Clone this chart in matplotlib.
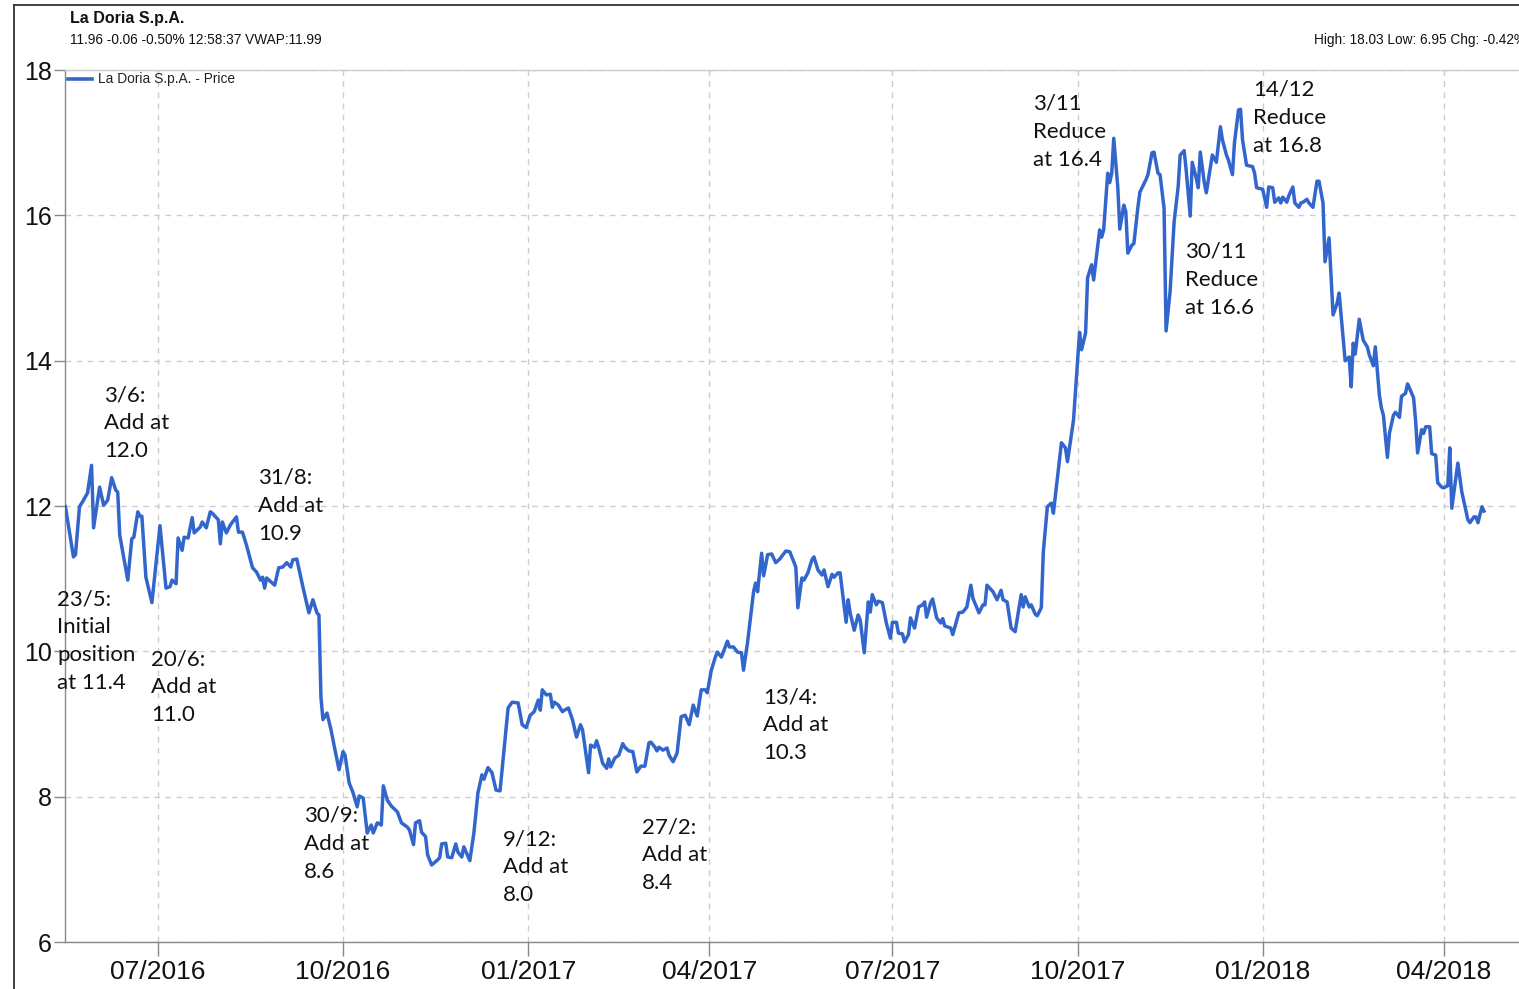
import matplotlib
matplotlib.use("Agg")
import matplotlib.pyplot as plt
import matplotlib.dates as mdates
from matplotlib.lines import Line2D
import pandas as pd

# ---------------- data ----------------
dates = [
    "2016-05-16", "2016-05-20", "2016-05-21", "2016-05-23", "2016-05-25", "2016-05-27", "2016-05-29", "2016-05-30",
    "2016-06-02", "2016-06-04", "2016-06-06", "2016-06-08", "2016-06-10", "2016-06-11", "2016-06-12", "2016-06-16",
    "2016-06-18", "2016-06-19", "2016-06-21", "2016-06-22", "2016-06-23", "2016-06-25", "2016-06-28", "2016-07-02",
    "2016-07-05", "2016-07-07", "2016-07-08", "2016-07-10", "2016-07-11", "2016-07-13", "2016-07-14", "2016-07-16",
    "2016-07-18", "2016-07-19", "2016-07-22", "2016-07-23", "2016-07-25", "2016-07-27", "2016-07-28", "2016-07-31",
    "2016-08-01", "2016-08-02", "2016-08-04", "2016-08-06", "2016-08-09", "2016-08-10", "2016-08-12", "2016-08-14",
    "2016-08-17", "2016-08-19", "2016-08-21", "2016-08-22", "2016-08-23", "2016-08-24", "2016-08-28", "2016-08-30",
    "2016-09-01", "2016-09-03", "2016-09-05", "2016-09-06", "2016-09-08", "2016-09-11", "2016-09-14", "2016-09-16",
    "2016-09-18", "2016-09-19", "2016-09-20", "2016-09-21", "2016-09-23", "2016-09-25", "2016-09-27", "2016-09-29",
    "2016-10-01", "2016-10-02", "2016-10-04", "2016-10-06", "2016-10-08", "2016-10-09", "2016-10-11", "2016-10-13",
    "2016-10-15", "2016-10-16", "2016-10-18", "2016-10-20", "2016-10-21", "2016-10-23", "2016-10-25", "2016-10-28",
    "2016-10-30", "2016-11-02", "2016-11-03", "2016-11-05", "2016-11-06", "2016-11-08", "2016-11-09", "2016-11-11",
    "2016-11-12", "2016-11-14", "2016-11-17", "2016-11-18", "2016-11-19", "2016-11-21", "2016-11-22", "2016-11-24",
    "2016-11-26", "2016-11-27", "2016-11-29", "2016-11-30", "2016-12-03", "2016-12-05", "2016-12-07", "2016-12-09",
    "2016-12-10", "2016-12-12", "2016-12-14", "2016-12-16", "2016-12-18", "2016-12-22", "2016-12-24", "2016-12-27",
    "2016-12-29", "2016-12-31", "2017-01-02", "2017-01-04", "2017-01-06", "2017-01-07", "2017-01-08", "2017-01-10",
    "2017-01-12", "2017-01-13", "2017-01-14", "2017-01-16", "2017-01-18", "2017-01-19", "2017-01-21", "2017-01-23",
    "2017-01-25", "2017-01-27", "2017-01-28", "2017-01-30", "2017-01-31", "2017-02-01", "2017-02-03", "2017-02-04",
    "2017-02-05", "2017-02-07", "2017-02-09", "2017-02-10", "2017-02-11", "2017-02-13", "2017-02-15", "2017-02-17",
    "2017-02-18", "2017-02-20", "2017-02-22", "2017-02-24", "2017-02-26", "2017-02-28", "2017-03-02", "2017-03-03",
    "2017-03-05", "2017-03-06", "2017-03-07", "2017-03-09", "2017-03-11", "2017-03-12", "2017-03-14", "2017-03-16",
    "2017-03-18", "2017-03-20", "2017-03-22", "2017-03-24", "2017-03-26", "2017-03-28", "2017-03-30", "2017-03-31",
    "2017-04-02", "2017-04-04", "2017-04-05", "2017-04-07", "2017-04-10", "2017-04-11", "2017-04-13", "2017-04-15",
    "2017-04-17", "2017-04-18", "2017-04-20", "2017-04-23", "2017-04-24", "2017-04-25", "2017-04-27", "2017-04-28",
    "2017-04-30", "2017-05-02", "2017-05-04", "2017-05-06", "2017-05-09", "2017-05-11", "2017-05-14", "2017-05-15",
    "2017-05-17", "2017-05-18", "2017-05-20", "2017-05-22", "2017-05-23", "2017-05-25", "2017-05-27", "2017-05-28",
    "2017-05-30", "2017-06-01", "2017-06-02", "2017-06-04", "2017-06-05", "2017-06-08", "2017-06-09", "2017-06-10",
    "2017-06-12", "2017-06-14", "2017-06-15", "2017-06-17", "2017-06-19", "2017-06-20", "2017-06-21", "2017-06-23",
    "2017-06-24", "2017-06-26", "2017-06-28", "2017-06-30", "2017-07-01", "2017-07-03", "2017-07-04", "2017-07-06",
    "2017-07-07", "2017-07-09", "2017-07-10", "2017-07-12", "2017-07-14", "2017-07-16", "2017-07-17", "2017-07-18",
    "2017-07-20", "2017-07-21", "2017-07-23", "2017-07-25", "2017-07-26", "2017-07-27", "2017-07-30", "2017-07-31",
    "2017-08-03", "2017-08-05", "2017-08-07", "2017-08-09", "2017-08-10", "2017-08-13", "2017-08-15", "2017-08-16",
    "2017-08-17", "2017-08-20", "2017-08-22", "2017-08-24", "2017-08-25", "2017-08-27", "2017-08-29", "2017-08-31",
    "2017-09-03", "2017-09-04", "2017-09-05", "2017-09-07", "2017-09-08", "2017-09-10", "2017-09-11", "2017-09-13",
    "2017-09-14", "2017-09-16", "2017-09-18", "2017-09-19", "2017-09-23", "2017-09-25", "2017-09-26", "2017-09-29",
    "2017-10-02", "2017-10-03", "2017-10-05", "2017-10-06", "2017-10-08", "2017-10-09", "2017-10-12", "2017-10-13",
    "2017-10-14", "2017-10-16", "2017-10-17", "2017-10-18", "2017-10-19", "2017-10-21", "2017-10-22", "2017-10-24",
    "2017-10-25", "2017-10-26", "2017-10-28", "2017-10-29", "2017-10-31", "2017-11-01", "2017-11-04", "2017-11-05",
    "2017-11-07", "2017-11-08", "2017-11-10", "2017-11-11", "2017-11-13", "2017-11-14", "2017-11-16", "2017-11-18",
    "2017-11-20", "2017-11-21", "2017-11-23", "2017-11-24", "2017-11-26", "2017-11-27", "2017-11-29", "2017-11-30",
    "2017-12-01", "2017-12-03", "2017-12-04", "2017-12-07", "2017-12-09", "2017-12-11", "2017-12-12", "2017-12-14",
    "2017-12-15", "2017-12-17", "2017-12-18", "2017-12-20", "2017-12-21", "2017-12-22", "2017-12-24", "2017-12-27",
    "2017-12-28", "2017-12-29", "2018-01-01", "2018-01-03", "2018-01-04", "2018-01-06", "2018-01-07", "2018-01-09",
    "2018-01-10", "2018-01-11", "2018-01-13", "2018-01-14", "2018-01-16", "2018-01-17", "2018-01-19", "2018-01-20",
    "2018-01-21", "2018-01-23", "2018-01-24", "2018-01-26", "2018-01-28", "2018-01-29", "2018-01-31", "2018-02-01",
    "2018-02-03", "2018-02-05", "2018-02-07", "2018-02-08", "2018-02-11", "2018-02-13", "2018-02-14", "2018-02-15",
    "2018-02-16", "2018-02-18", "2018-02-20", "2018-02-22", "2018-02-23", "2018-02-25", "2018-02-26", "2018-02-28",
    "2018-03-01", "2018-03-02", "2018-03-04", "2018-03-05", "2018-03-07", "2018-03-08", "2018-03-10", "2018-03-11",
    "2018-03-13", "2018-03-14", "2018-03-15", "2018-03-17", "2018-03-18", "2018-03-19", "2018-03-21", "2018-03-22",
    "2018-03-23", "2018-03-25", "2018-03-26", "2018-03-28", "2018-03-29", "2018-03-31", "2018-04-01", "2018-04-03",
    "2018-04-04", "2018-04-05", "2018-04-08", "2018-04-10", "2018-04-13", "2018-04-14", "2018-04-16", "2018-04-17",
    "2018-04-18", "2018-04-20", "2018-04-21",
]

prices = [
    11.99, 11.30, 11.33, 11.99, 12.08, 12.18, 12.56, 11.70,
    12.26, 12.01, 12.08, 12.39, 12.22, 12.19, 11.60, 10.98,
    11.55, 11.57, 11.92, 11.86, 11.86, 11.02, 10.67, 11.73,
    10.87, 10.89, 10.98, 10.93, 11.56, 11.39, 11.57, 11.56,
    11.84, 11.63, 11.71, 11.78, 11.70, 11.92, 11.90, 11.81,
    11.48, 11.78, 11.63, 11.74, 11.85, 11.64, 11.64, 11.46,
    11.15, 11.09, 10.98, 11.02, 10.87, 11.01, 10.91, 11.15,
    11.16, 11.22, 11.16, 11.26, 11.27, 10.89, 10.53, 10.71,
    10.53, 10.50, 9.37, 9.06, 9.15, 8.92, 8.64, 8.37,
    8.62, 8.57, 8.19, 8.05, 7.86, 8.01, 7.98, 7.50,
    7.61, 7.50, 7.64, 7.61, 8.15, 7.95, 7.87, 7.79,
    7.64, 7.58, 7.54, 7.34, 7.64, 7.67, 7.51, 7.45,
    7.20, 7.06, 7.13, 7.16, 7.35, 7.36, 7.17, 7.16,
    7.35, 7.24, 7.17, 7.31, 7.12, 7.50, 8.05, 8.30,
    8.24, 8.40, 8.33, 8.09, 8.08, 9.22, 9.30, 9.29,
    8.99, 8.95, 9.12, 9.17, 9.33, 9.19, 9.47, 9.40,
    9.41, 9.23, 9.30, 9.26, 9.17, 9.19, 9.22, 9.06,
    8.82, 8.99, 8.92, 8.53, 8.33, 8.71, 8.68, 8.77,
    8.68, 8.46, 8.39, 8.52, 8.41, 8.53, 8.57, 8.73,
    8.68, 8.63, 8.62, 8.34, 8.42, 8.42, 8.74, 8.75,
    8.68, 8.63, 8.68, 8.64, 8.67, 8.57, 8.48, 8.60,
    9.10, 9.12, 8.99, 9.26, 9.11, 9.47, 9.47, 9.43,
    9.74, 9.92, 9.99, 9.92, 10.14, 10.06, 10.06, 9.99,
    9.98, 9.74, 10.12, 10.82, 10.94, 10.82, 11.35, 11.04,
    11.33, 11.34, 11.22, 11.27, 11.38, 11.37, 11.16, 10.60,
    11.01, 10.98, 11.08, 11.26, 11.30, 11.12, 11.05, 11.12,
    10.89, 11.06, 11.02, 11.08, 11.08, 10.40, 10.71, 10.53,
    10.29, 10.50, 10.43, 9.98, 10.68, 10.54, 10.78, 10.64,
    10.69, 10.67, 10.39, 10.18, 10.40, 10.40, 10.25, 10.24,
    10.13, 10.23, 10.46, 10.32, 10.61, 10.64, 10.68, 10.47,
    10.67, 10.72, 10.46, 10.39, 10.45, 10.35, 10.32, 10.23,
    10.53, 10.54, 10.61, 10.91, 10.73, 10.53, 10.64, 10.64,
    10.91, 10.82, 10.71, 10.84, 10.71, 10.68, 10.32, 10.27,
    10.78, 10.61, 10.75, 10.61, 10.64, 10.51, 10.49, 10.60,
    11.37, 11.99, 12.04, 11.90, 12.87, 12.80, 12.61, 13.18,
    14.39, 14.15, 14.38, 15.14, 15.32, 15.11, 15.80, 15.70,
    15.80, 16.58, 16.45, 16.58, 17.06, 16.39, 15.81, 16.14,
    16.05, 15.48, 15.59, 15.61, 16.11, 16.32, 16.49, 16.56,
    16.86, 16.87, 16.58, 16.56, 16.10, 14.41, 14.95, 15.91,
    16.39, 16.83, 16.89, 16.62, 15.99, 16.73, 16.51, 16.38,
    16.87, 16.45, 16.31, 16.83, 16.73, 17.22, 17.04, 16.83,
    16.76, 16.56, 17.00, 17.45, 17.46, 17.04, 16.69, 16.67,
    16.58, 16.38, 16.36, 16.11, 16.39, 16.38, 16.18, 16.24,
    16.17, 16.25, 16.18, 16.27, 16.39, 16.17, 16.11, 16.17,
    16.18, 16.22, 16.17, 16.11, 16.47, 16.47, 16.17, 15.36,
    15.69, 14.63, 14.79, 14.93, 14.00, 14.05, 13.64, 14.24,
    14.09, 14.57, 14.28, 14.19, 14.08, 13.93, 14.19, 13.53,
    13.35, 13.25, 12.67, 13.00, 13.25, 13.29, 13.22, 13.51,
    13.55, 13.68, 13.62, 13.49, 13.18, 12.73, 13.05, 13.00,
    13.09, 13.09, 12.72, 12.70, 12.32, 12.26, 12.25, 12.28,
    12.80, 11.97, 12.59, 12.19, 11.81, 11.77, 11.85, 11.85,
    11.77, 11.99, 11.93,
]

tick_dates = ["2016-07-01", "2016-10-01", "2017-01-01", "2017-04-01",
              "2017-07-01", "2017-10-01", "2018-01-01", "2018-04-01"]
tick_labels = ["07/2016", "10/2016", "01/2017", "04/2017",
               "07/2017", "10/2017", "01/2018", "04/2018"]
y_ticks = [6, 8, 10, 12, 14, 16, 18]

notes = [
    "23/5:\nInitial\nposition\nat 11.4",
    "3/6:\nAdd at\n12.0",
    "20/6:\nAdd at\n11.0",
    "31/8:\nAdd at\n10.9",
    "30/9:\nAdd at\n8.6",
    "9/12:\nAdd at\n8.0",
    "27/2:\nAdd at\n8.4",
    "13/4:\nAdd at\n10.3",
    "3/11\nReduce\nat 16.4",
    "30/11\nReduce\nat 16.6",
    "14/12\nReduce\nat 16.8",
]
# layout: pixel position (left, baseline of first line) of each note
note_pos = [(57, 602), (104, 399), (151, 663), (258, 482), (304, 820),
            (503, 843), (642, 831), (763, 701), (1033, 108), (1185, 256),
            (1253, 94)]
NOTE_LINE_PX = 29

title = "La Doria S.p.A."
quote_line = "11.96 -0.06 -0.50% 12:58:37 VWAP:11.99"
stats_line = "High: 18.03 Low: 6.95 Chg: -0.42%"
legend_label = "La Doria S.p.A. - Price"

# ---------------- figure ----------------
W, H = 1519, 989
LINE = "#3366CC"
SANS = ["Liberation Sans", "DejaVu Sans"]
NOTE_FONT = ["Lato", "DejaVu Sans"]

fig = plt.figure(figsize=(W / 100, H / 100), dpi=100)
fig.patch.set_facecolor("white")

def fx(px):
    return px / W

def fy(py):
    return 1 - py / H

ax = fig.add_axes([fx(65), fy(942), fx(W) - fx(65), fy(70) - fy(942)])

x = pd.to_datetime(dates)
ax.plot(x, prices, color=LINE, lw=2.5, solid_joinstyle="round", zorder=3)

base = pd.Timestamp("2016-07-01")
ax.set_xlim(mdates.date2num(base + pd.Timedelta(days=-46.2)),
            mdates.date2num(base + pd.Timedelta(days=676.4)))
ax.set_ylim(6, 18)

ax.set_xticks(pd.to_datetime(tick_dates))
ax.set_xticklabels(tick_labels, fontfamily=SANS, fontsize=19, color="#111111")
ax.set_yticks(y_ticks)
ax.set_yticklabels([str(v) for v in y_ticks], fontfamily=SANS, fontsize=18, color="#111111")

ax.tick_params(axis="y", length=8, width=1, color="#888888", pad=1.5)
ax.tick_params(axis="x", length=10, width=1, color="#888888", pad=3)

ax.grid(True, color="#cccccc", linestyle=(0, (4, 4)), linewidth=1)
ax.set_axisbelow(True)

for side in ("left", "bottom"):
    ax.spines[side].set_color("#888888")
    ax.spines[side].set_linewidth(1)
ax.spines["top"].set_color("#cccccc")
ax.spines["top"].set_linewidth(1)
ax.spines["right"].set_visible(False)

# outer frame
fig.add_artist(Line2D([fx(14), fx(14)], [0, fy(5)], color="#333333", lw=1.3))
fig.add_artist(Line2D([fx(14), 1], [fy(5), fy(5)], color="#333333", lw=1.3))

# header
fig.text(fx(70), fy(19), title, fontfamily=SANS, fontsize=11.5, fontweight="bold",
         va="center", ha="left", color="#111111")
fig.text(fx(70), fy(40), quote_line, fontfamily=SANS, fontsize=9.8,
         va="center", ha="left", color="#111111")
fig.text(fx(1314), fy(40), stats_line, fontfamily=SANS, fontsize=9.8,
         va="center", ha="left", color="#111111")

# legend
fig.add_artist(Line2D([fx(68), fx(92)], [fy(79), fy(79)], color=LINE, lw=2.6))
fig.text(fx(98), fy(79), legend_label, fontfamily=SANS, fontsize=9.9,
         va="center", ha="left", color="#222222")

# annotations (va='baseline' anchors the last line's baseline)
for txt, (px, py) in zip(notes, note_pos):
    n_lines = txt.count("\n")
    fig.text(fx(px), fy(py + n_lines * NOTE_LINE_PX), txt, fontfamily=NOTE_FONT,
             fontsize=16, va="baseline", ha="left", color="#111111",
             linespacing=1.5, zorder=5)

fig.savefig("out.png", dpi=100)
